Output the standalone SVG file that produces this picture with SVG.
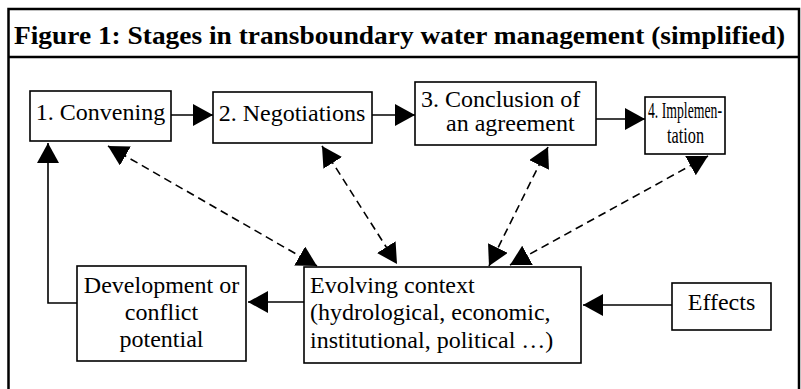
<svg xmlns="http://www.w3.org/2000/svg" width="801" height="389" viewBox="0 0 801 389">
<style>
.frame{fill:none;stroke:#000;stroke-width:2.5}
.box{fill:#fff;stroke:#000;stroke-width:1.6}
.t{font-family:"Liberation Serif","Times New Roman",serif;font-size:24px;fill:#000}
.title{font-family:"Liberation Serif","Times New Roman",serif;font-size:26px;font-weight:bold;fill:#000}
.solid{fill:none;stroke:#000;stroke-width:1.6}
.dash{fill:none;stroke:#000;stroke-width:1.6;stroke-dasharray:8 5}
</style>
<defs>
<marker id="ah" markerUnits="userSpaceOnUse" markerWidth="20" markerHeight="22" refX="20" refY="11" orient="auto-start-reverse" viewBox="0 0 20 22">
<path d="M0,0 L20,11 L0,22 z" fill="#000"/>
</marker>
</defs>
<g id="frame">
<path class="frame" d="M8.5,389 V9 H799 V389"/>
<line class="frame" x1="8.5" y1="57" x2="799" y2="57"/>
<text class="title" x="14" y="44" textLength="771" lengthAdjust="spacingAndGlyphs">Figure 1: Stages in transboundary water management (simplified)</text>
</g>
<g id="connectors">
<line class="solid" x1="171" y1="115" x2="213" y2="115" marker-end="url(#ah)"/>
<line class="solid" x1="372" y1="115" x2="415" y2="115" marker-end="url(#ah)"/>
<line class="solid" x1="596" y1="119" x2="645" y2="119" marker-end="url(#ah)"/>
<line class="solid" x1="304" y1="302" x2="248" y2="302" marker-end="url(#ah)"/>
<line class="solid" x1="672" y1="305" x2="583" y2="305" marker-end="url(#ah)"/>
<path class="solid" d="M77,303 H48 V143" marker-end="url(#ah)"/>
<line class="dash" x1="108" y1="146" x2="317" y2="266" marker-start="url(#ah)" marker-end="url(#ah)"/>
<line class="dash" x1="322" y1="146" x2="397" y2="264" marker-start="url(#ah)" marker-end="url(#ah)"/>
<line class="dash" x1="548" y1="147" x2="489" y2="266" marker-start="url(#ah)" marker-end="url(#ah)"/>
<line class="dash" x1="708" y1="156" x2="510" y2="265" marker-start="url(#ah)" marker-end="url(#ah)"/>
</g>
<g id="n1">
<rect class="box" x="30" y="91" width="141" height="50"/>
<text class="t" x="100.5" y="120" text-anchor="middle">1. Convening</text>
</g>
<g id="n2">
<rect class="box" x="213" y="92" width="159" height="51"/>
<text class="t" x="292" y="121" text-anchor="middle">2. Negotiations</text>
</g>
<g id="n3">
<rect class="box" x="415" y="82" width="181" height="63"/>
<text class="t" x="421" y="107">3. Conclusion of</text>
<text class="t" x="446" y="131">an agreement</text>
</g>
<g id="n4">
<rect class="box" x="645" y="97" width="80" height="57"/>
<text class="t" x="648" y="118" textLength="74" lengthAdjust="spacingAndGlyphs">4.  Implemen-</text>
<text class="t" x="667" y="143" textLength="37" lengthAdjust="spacingAndGlyphs">tation</text>
</g>
<g id="n5">
<rect class="box" x="77" y="266" width="169" height="95"/>
<text class="t" x="161.5" y="293" text-anchor="middle">Development or</text>
<text class="t" x="161.5" y="320" text-anchor="middle">conflict</text>
<text class="t" x="161.5" y="347" text-anchor="middle">potential</text>
</g>
<g id="n6">
<rect class="box" x="304" y="267" width="277" height="96"/>
<text class="t" x="310" y="293">Evolving context</text>
<text class="t" x="310" y="320">(hydrological, economic,</text>
<text class="t" x="310" y="348">institutional, political …)</text>
</g>
<g id="n7">
<rect class="box" x="672" y="283" width="99" height="47"/>
<text class="t" x="721.5" y="310" text-anchor="middle">Effects</text>
</g>
</svg>
